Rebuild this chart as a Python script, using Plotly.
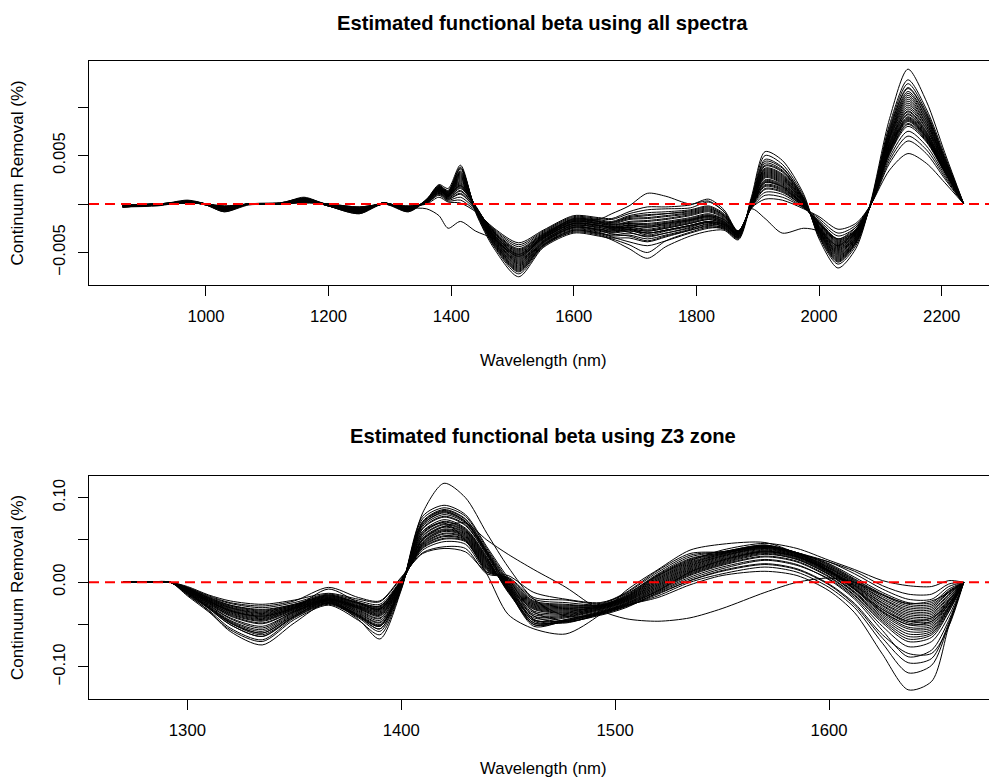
import plotly.graph_objects as go

UNIT = 1e-3  # all beta values below are typed in units of 1e-3

# ---------------- top panel: all spectra ----------------
wl_all = [864, 920, 970, 1000, 1030, 1070, 1120, 1160, 1200, 1250,
          1290, 1330, 1360, 1380, 1395, 1415, 1440, 1470, 1510, 1550,
          1600, 1640, 1662, 1690, 1720, 1750, 1790, 1820, 1845, 1868,
          1890, 1912, 1940, 1975, 2000, 2031, 2060, 2085, 2115, 2145,
          2175, 2205, 2236]

beta_all = [
    [-0.3,-0.1,0.3,-0.1,-0.8,0.0,0.0,0.7,-0.2,-1.0, 0.1,-0.8,0.5,2.0,1.6,4.0,-0.9,-4.6,-7.5,-4.5, -3.0,-3.3,-3.6,-4.2,-5.0,-3.8,-2.9,-2.4,-2.6,-3.6, 0.8,5.4,4.5,1.0,-3.6,-6.6,-4.6,0.4,8.8,13.9, 10.6,5.3,0.0],
    [-0.2,-0.1,0.4,0.0,-0.7,0.0,0.1,0.6,-0.1,-0.9, 0.1,-0.7,0.5,1.9,1.4,3.8,-0.8,-4.4,-7.2,-4.4, -2.8,-3.1,-3.5,-3.5,-3.9,-3.4,-2.7,-2.2,-2.5,-3.5, 0.6,5.0,4.1,0.8,-3.4,-6.2,-4.3,0.3,8.2,12.8, 9.8,5.0,0.0],
    [-0.3,-0.2,0.2,-0.1,-0.8,-0.1,0.0,0.6,-0.2,-1.0, 0.0,-0.8,0.4,1.8,1.3,3.6,-0.7,-4.3,-7.0,-4.3, -2.9,-3.2,-3.7,-4.6,-5.6,-4.4,-3.3,-2.8,-2.7,-3.7, 0.3,4.6,3.8,0.6,-3.3,-6.0,-4.1,0.2,7.9,12.4, 9.5,4.8,0.0],
    [-0.2,-0.1,0.3,0.0,-0.6,0.0,0.0,0.5,-0.2,-0.8, 0.1,-0.7,0.4,1.8,1.2,3.4,-0.6,-4.1,-6.8,-4.2, -2.6,-2.9,-3.3,-3.2,-3.6,-3.2,-2.6,-2.0,-2.3,-3.4, 0.4,4.2,3.5,0.5,-3.1,-5.8,-3.9,0.2,7.6,11.9, 9.2,4.6,0.0],
    [-0.3,-0.1,0.3,0.0,-0.7,0.0,0.1,0.6,-0.1,-0.9, 0.1,-0.6,0.4,1.7,1.2,3.2,-0.6,-4.0,-6.6,-4.1, -2.5,-2.8,-3.0,-2.8,-3.0,-2.7,-2.2,-1.8,-2.2,-3.3, 0.3,3.9,3.3,0.4,-2.9,-5.6,-3.8,0.1,7.3,11.4, 8.9,4.4,0.0],
    [-0.2,0.0,0.2,0.0,-0.6,0.0,0.0,0.5,-0.2,-0.8, 0.0,-0.6,0.4,1.7,1.1,3.0,-0.5,-3.8,-6.4,-4.0, -2.4,-2.7,-2.9,-2.6,-2.8,-2.5,-2.0,-1.6,-2.1,-3.2, 0.2,3.6,3.0,0.3,-2.8,-5.4,-3.6,0.1,7.0,11.0, 8.6,4.2,0.0],
    [-0.3,-0.1,0.3,-0.1,-0.6,0.0,0.0,0.5,-0.2,-0.8, 0.1,-0.6,0.3,1.6,1.0,2.8,-0.5,-3.7,-6.2,-3.9, -2.3,-2.6,-2.8,-2.4,-2.6,-2.3,-1.8,-1.4,-2.0,-3.2, 0.2,3.4,2.8,0.2,-2.7,-5.2,-3.5,0.1,6.8,10.6, 8.3,4.1,0.0],
    [-0.2,-0.1,0.2,0.0,-0.5,0.0,0.0,0.4,-0.1,-0.7, 0.1,-0.5,0.3,1.6,1.0,2.6,-0.4,-3.6,-6.0,-3.8, -2.2,-2.5,-2.9,-2.7,-3.2,-2.8,-2.3,-1.9,-2.2,-3.3, 0.1,3.2,2.6,0.1,-2.6,-5.0,-3.4,0.0,6.6,10.2, 8.0,3.9,0.0],
    [-0.2,-0.1,0.2,0.0,-0.5,0.0,0.1,0.4,-0.1,-0.7, 0.1,-0.5,0.3,1.5,0.9,2.4,-0.4,-3.5,-5.8,-3.6, -2.1,-2.3,-2.5,-2.2,-2.3,-2.0,-1.6,-1.2,-1.8,-3.1, 0.1,3.0,2.4,0.1,-2.5,-4.8,-3.2,0.0,6.3,9.8, 7.7,3.8,0.0],
    [-0.3,-0.1,0.2,-0.1,-0.5,0.0,0.0,0.4,-0.2,-0.7, 0.0,-0.5,0.3,1.5,0.9,2.2,-0.3,-3.4,-5.6,-3.5, -2.0,-2.2,-2.4,-2.0,-2.0,-1.8,-1.4,-1.0,-1.6,-3.0, 0.0,2.8,2.2,0.0,-2.4,-4.6,-3.1,0.0,6.1,9.5, 7.4,3.7,0.0],
    [-0.2,-0.1,0.2,0.0,-0.4,0.0,0.0,0.4,-0.1,-0.6, 0.1,-0.4,0.2,1.4,0.8,2.0,-0.3,-3.3,-5.4,-3.4, -1.9,-2.1,-2.6,-2.9,-3.4,-3.0,-2.5,-2.1,-2.3,-3.2, -0.1,2.5,2.0,-0.1,-2.3,-4.4,-3.0,0.0,5.9,9.2, 7.2,3.6,0.0],
    [-0.2,0.0,0.2,0.0,-0.4,0.0,0.0,0.3,-0.1,-0.6, 0.0,-0.4,0.2,1.4,0.8,1.8,-0.3,-3.2,-5.2,-3.3, -1.8,-2.0,-2.2,-1.8,-1.7,-1.5,-1.1,-0.7,-1.4,-2.9, -0.1,2.3,1.8,-0.2,-2.2,-4.2,-2.9,0.0,5.7,8.9, 7.0,3.5,0.0],
    [-0.2,-0.1,0.1,0.0,-0.4,0.0,0.0,0.3,-0.1,-0.5, 0.1,-0.4,0.2,1.3,0.7,1.6,-0.3,-3.0,-5.0,-3.2, -1.7,-1.9,-2.0,-1.5,-1.4,-1.2,-0.9,-0.5,-1.2,-2.9, -0.2,2.0,1.6,-0.2,-2.0,-4.0,-2.8,0.0,5.5,8.6, 6.8,3.4,0.0],
    [-0.2,-0.1,0.1,0.0,-0.3,0.0,0.0,0.3,-0.1,-0.5, 0.0,-0.3,0.2,1.2,0.6,1.3,-0.4,-2.9,-4.8,-3.1, -1.6,-1.8,-2.3,-2.5,-2.8,-2.5,-2.0,-1.6,-2.0,-3.1, -0.2,1.8,1.4,-0.3,-1.9,-3.8,-2.7,0.0,5.3,8.3, 6.6,3.3,0.0],
    [-0.1,0.0,0.1,0.0,-0.3,0.0,0.0,0.2,0.0,-0.4, 0.0,-0.3,0.1,1.1,0.5,1.0,-0.5,-2.8,-4.6,-3.0, -1.5,-1.7,-1.9,-1.4,-1.2,-1.0,-0.7,-0.3,-1.1,-2.8, -0.3,1.5,1.2,-0.3,-1.8,-3.6,-2.6,0.0,5.1,8.0, 6.4,3.2,0.0],
    [-0.1,0.0,0.1,0.0,-0.3,0.0,0.0,0.2,0.0,-0.4, 0.0,-0.3,0.1,1.0,0.4,0.7,-0.6,-2.7,-4.4,-2.9, -1.4,-1.6,-1.8,-1.2,-0.9,-0.8,-0.6,-0.2,-1.0,-2.8, -0.3,1.2,1.0,-0.4,-1.7,-3.3,-2.4,0.0,4.8,7.5, 6.0,3.0,0.0],
    [-0.1,0.0,0.1,0.0,-0.2,0.0,0.0,0.2,0.0,-0.3, 0.0,-0.2,0.1,0.9,0.3,0.4,-0.7,-2.6,-4.2,-2.8, -1.3,-1.5,-1.6,-1.0,-0.6,-0.5,-0.4,0.2,-0.8,-2.8, -0.4,0.9,0.7,-0.4,-1.5,-3.0,-2.2,0.0,4.5,7.0, 5.6,2.8,0.0],
    [-0.1,0.0,0.1,0.0,-0.2,0.0,0.0,0.1,0.0,-0.3, 0.0,-0.2,0.0,0.7,0.2,0.1,-0.8,-2.5,-4.0,-2.7, -1.2,-1.4,-1.5,-0.8,-0.3,-0.3,-0.1,0.5,-0.6,-2.8, -0.4,0.5,0.4,-0.5,-1.3,-2.6,-2.0,0.0,4.2,6.5, 5.2,2.6,0.0],
    [-0.2,-0.1,0.1,0.0,-0.4,0.0,0.0,0.3,-0.1,-0.6, 0.0,-0.4,-0.5,-1.2,-2.5,-1.8,-2.8,-3.6,-5.4,-3.5, -2.0,-2.2,-2.4,-2.2,-2.4,-2.1,-1.7,-1.3,-1.8,-3.0, -0.2,2.2,1.8,-0.2,-2.0,-3.6,-2.4,0.0,3.5,5.2, 4.2,2.2,0.0],
    [-0.2,0.0,0.2,0.0,-0.5,0.0,0.0,0.4,-0.1,-0.6, 0.1,-0.5,0.3,1.4,0.8,1.9,-0.2,-3.2,-5.2,-3.3, -1.5,-1.6,-1.0,-0.2,1.1,0.8,0.0,0.3,-0.8,-2.9, -0.5,-1.5,-3.0,-2.5,-2.8,-4.3,-2.6,0.0,5.6,8.7, 6.9,3.4,0.0],
    [-0.2,-0.1,0.3,0.0,-0.7,0.0,0.0,0.6,-0.2,-0.9, 0.1,-0.7,0.4,1.9,1.3,3.7,-0.7,-4.2,-6.9,-4.3, -2.7,-3.0,-3.2,-3.0,-3.3,-3.0,-2.4,-1.9,-2.4,-3.4, 0.5,4.4,3.7,0.6,-3.2,-5.9,-4.0,0.2,7.7,12.0, 9.3,4.7,0.0],
    [-0.3,-0.1,0.2,-0.1,-0.6,0.0,0.0,0.5,-0.1,-0.8, 0.0,-0.6,0.4,1.7,1.2,3.3,-0.6,-4.0,-6.7,-4.2, -2.7,-3.0,-3.4,-3.9,-4.3,-3.8,-3.0,-2.5,-2.5,-3.5, 0.4,4.0,3.4,0.5,-3.0,-5.7,-3.9,0.2,7.4,11.6, 9.0,4.5,0.0],
    [-0.2,-0.1,0.3,0.0,-0.6,0.0,0.1,0.5,-0.2,-0.8, 0.1,-0.6,0.4,1.7,1.1,3.1,-0.5,-3.9,-6.5,-4.0, -2.4,-2.6,-2.7,-2.3,-2.4,-2.2,-1.7,-1.3,-1.9,-3.2, 0.3,3.7,3.1,0.4,-2.9,-5.5,-3.7,0.1,7.1,11.2, 8.7,4.3,0.0],
    [-0.2,0.0,0.2,0.0,-0.6,0.0,0.0,0.5,-0.1,-0.7, 0.1,-0.5,0.3,1.6,1.0,2.9,-0.5,-3.8,-6.3,-3.9, -2.4,-2.7,-3.1,-3.3,-3.8,-3.3,-2.7,-2.3,-2.4,-3.4, 0.2,3.5,2.9,0.3,-2.8,-5.3,-3.6,0.1,6.9,10.8, 8.4,4.2,0.0],
    [-0.3,-0.1,0.2,0.0,-0.5,0.0,0.0,0.5,-0.2,-0.8, 0.0,-0.5,0.3,1.6,1.0,2.7,-0.4,-3.6,-6.1,-3.8, -2.2,-2.4,-2.6,-2.1,-2.1,-1.9,-1.5,-1.1,-1.7,-3.1, 0.2,3.3,2.7,0.2,-2.7,-5.1,-3.4,0.1,6.7,10.4, 8.1,4.0,0.0],
    [-0.2,-0.1,0.2,0.0,-0.5,0.0,0.0,0.4,-0.1,-0.7, 0.1,-0.5,0.3,1.5,0.9,2.5,-0.4,-3.5,-5.9,-3.7, -2.2,-2.4,-2.7,-2.6,-3.0,-2.7,-2.2,-1.8,-2.1,-3.2, 0.1,3.1,2.5,0.1,-2.6,-4.9,-3.3,0.0,6.4,10.0, 7.8,3.9,0.0],
    [-0.2,-0.1,0.2,0.0,-0.5,0.0,0.0,0.4,-0.1,-0.7, 0.1,-0.5,0.3,1.5,0.9,2.3,-0.3,-3.4,-5.7,-3.6, -2.0,-2.2,-2.3,-1.9,-1.8,-1.6,-1.2,-0.8,-1.5,-3.0, 0.0,2.9,2.3,0.0,-2.5,-4.7,-3.2,0.0,6.2,9.6, 7.5,3.7,0.0],
    [-0.2,-0.1,0.2,0.0,-0.4,0.0,0.0,0.4,-0.1,-0.6, 0.0,-0.4,0.2,1.4,0.8,2.1,-0.3,-3.3,-5.5,-3.5, -2.0,-2.2,-2.5,-2.4,-2.7,-2.4,-1.9,-1.5,-1.9,-3.1, 0.0,2.7,2.1,-0.1,-2.4,-4.5,-3.1,0.0,6.0,9.3, 7.3,3.6,0.0],
    [-0.2,0.0,0.2,0.0,-0.4,0.0,0.0,0.3,-0.1,-0.6, 0.1,-0.4,0.2,1.4,0.8,1.9,-0.3,-3.2,-5.3,-3.4, -1.8,-2.0,-2.1,-1.6,-1.5,-1.3,-1.0,-0.6,-1.3,-2.9, -0.1,2.4,1.9,-0.1,-2.3,-4.3,-3.0,0.0,5.8,9.0, 7.1,3.5,0.0],
    [-0.2,-0.1,0.1,0.0,-0.4,0.0,0.0,0.3,-0.1,-0.5, 0.0,-0.4,0.2,1.3,0.7,1.7,-0.3,-3.1,-5.1,-3.3, -1.8,-2.0,-2.4,-2.6,-3.0,-2.7,-2.2,-1.8,-2.1,-3.1, -0.1,2.2,1.7,-0.2,-2.1,-4.1,-2.9,0.0,5.6,8.8, 6.9,3.4,0.0],
    [-0.2,-0.1,0.1,0.0,-0.3,0.0,0.0,0.3,-0.1,-0.5, 0.0,-0.3,0.2,1.2,0.6,1.4,-0.4,-3.0,-4.9,-3.2, -1.7,-1.8,-1.9,-1.3,-1.1,-1.0,-0.8,-0.4,-1.2,-2.9, -0.2,1.9,1.5,-0.2,-2.0,-3.9,-2.8,0.0,5.4,8.5, 6.7,3.3,0.0],
    [-0.1,0.0,0.1,0.0,-0.3,0.0,0.0,0.2,0.0,-0.4, 0.0,-0.3,0.1,1.1,0.5,1.1,-0.5,-2.9,-4.7,-3.1, -1.6,-1.8,-2.1,-2.0,-2.2,-2.0,-1.6,-1.2,-1.6,-3.0, -0.2,1.6,1.3,-0.3,-1.9,-3.7,-2.7,0.0,5.2,8.2, 6.5,3.3,0.0],
]

# ---------------- bottom panel: Z3 zone ----------------
wl_z3 = [1270, 1280, 1292, 1300, 1310, 1320, 1335, 1350, 1366, 1380,
         1390, 1400, 1410, 1420, 1430, 1440, 1450, 1462, 1477, 1493,
         1505, 1520, 1535, 1550, 1570, 1585, 1600, 1612, 1625, 1637,
         1648, 1656, 1663]

beta_z3 = [
    [0,0,0,-14,-34,-58,-74,-48,-24,-44, -67,-9,82,117,100,58,18,-20,-40,-38, -28,-10,12,26,36,30,14,-8,-32,-46, -42,-25,0],
    [0,0,0,-16,-35,-56,-70,-44,-27,-45, -62,-8,78,91,80,42,5,-35,-46,-39, -30,-12,4,16,26,20,4,-18,-52,-76, -70,-40,0],
    [0,0,0,-15,-33,-54,-68,-42,-26,-42, -58,-7,75,88,78,40,2,-40,-47,-38, -29,-14,2,14,22,16,-2,-25,-62,-84, -84,-52,0],
    [0,0,0,-14,-31,-50,-64,-40,-25,-40, -55,-6,72,86,75,38,0,-44,-48,-37, -28,-16,0,10,18,12,-6,-30,-72,-107, -98,-50,0],
    [0,0,0,-13,-30,-48,-60,-38,-24,-39, -52,-5,70,84,72,36,-5,-48,-46,-36, -27,-18,-3,8,13,8,-10,-36,-85,-127, -117,-52,0],
    [0,0,0,-12,-28,-45,-56,-36,-23,-37, -48,-5,66,80,70,34,-8,-52,-45,-35, -26,-10,8,20,30,24,6,-16,-48,-70, -65,-35,0],
    [0,0,0,-11,-27,-42,-52,-35,-22,-35, -45,-4,63,77,67,32,-10,-50,-44,-34, -25,-8,10,22,33,27,9,-13,-44,-64, -60,-32,0],
    [0,0,0,-11,-26,-40,-49,-34,-21,-34, -43,-3,60,74,64,30,-12,-45,-42,-33, -24,-6,12,24,35,28,10,-11,-40,-58, -56,-30,0],
    [0,0,0,-10,-25,-38,-46,-33,-21,-32, -40,-3,57,71,62,28,-10,-40,-40,-32, -23,-4,14,26,37,30,12,-8,-36,-53, -52,-28,0],
    [0,0,0,-10,-24,-36,-44,-32,-20,-31, -38,-2,54,68,60,26,-8,-36,-38,-31, -22,-2,16,28,38,31,13,-6,-32,-48, -48,-25,0],
    [0,0,0,-9,-23,-34,-42,-31,-20,-30, -36,-2,51,65,58,24,-6,-32,-36,-30, -21,0,18,30,40,32,14,-4,-28,-44, -44,-22,0],
    [0,0,0,-9,-22,-33,-40,-30,-19,-29, -34,-1,48,62,56,22,-4,-30,-34,-29, -20,2,20,31,41,33,15,-3,-25,-40, -40,-20,0],
    [0,0,0,-8,-21,-31,-38,-29,-18,-28, -32,0,46,60,54,20,-2,-28,-32,-29, -19,4,22,33,42,34,17,-1,-22,-36, -36,-17,0],
    [0,0,0,-8,-20,-30,-36,-28,-17,-26, -31,1,44,57,52,18,0,-26,-30,-28, -18,6,24,34,42,34,18,1,-19,-32, -32,-14,0],
    [0,0,0,-7,-19,-28,-34,-27,-16,-25, -29,2,42,54,50,16,2,-24,-28,-27, -17,8,27,35,43,35,20,3,-15,-28, -28,-11,0],
    [0,0,0,-7,-18,-27,-32,-26,-15,-24, -28,2,40,51,48,14,4,-22,-26,-27, -15,10,30,36,44,35,22,6,-12,-24, -24,-8,0],
    [0,0,0,-6,-17,-25,-30,-24,-14,-22, -26,3,38,48,45,12,5,-20,-24,-26, -13,12,32,36,44,35,24,10,-8,-20, -20,-5,0],
    [0,0,0,-5,-15,-22,-26,-21,-13,-20, -23,5,35,42,40,10,6,-18,-21,-25, -12,14,34,36,43,34,24,13,-4,-14, -14,-2,0],
    [0,0,0,-8,-22,-34,-40,-30,-8,-24, -32,3,50,66,70,50,33,15,-6,-33, -43,-46,-42,-31,-12,0,5,0,-15,-25, -22,-12,0],
    [0,0,0,-12,-30,-48,-62,-40,-22,-40, -52,-4,60,70,50,10,-38,-55,-61,-38, -10,15,38,45,47,34,14,-8,-35,-50, -46,-26,0],
    [0,0,0,-6,-16,-24,-28,-22,-6,-18, -22,6,34,40,36,12,8,-12,-20,-24, -14,8,25,38,46,40,26,15,2,-4, -5,2,0],
    [0,0,0,-12,-29,-46,-58,-37,-23,-38, -50,-5,68,82,71,35,-6,-50,-46,-36, -26,-9,9,21,31,25,7,-15,-46,-67, -62,-34,0],
    [0,0,0,-11,-27,-43,-54,-35,-22,-36, -47,-4,64,78,68,33,-9,-48,-44,-35, -25,-7,11,23,34,27,9,-12,-42,-61, -58,-31,0],
    [0,0,0,-10,-25,-39,-48,-34,-21,-33, -42,-3,58,72,63,29,-11,-42,-41,-32, -23,-5,13,25,36,29,11,-9,-38,-55, -54,-29,0],
    [0,0,0,-10,-24,-37,-45,-32,-20,-31, -39,-2,55,69,61,27,-9,-38,-39,-31, -22,-3,15,27,37,30,12,-7,-34,-50, -50,-26,0],
    [0,0,0,-9,-23,-35,-43,-31,-20,-30, -37,-2,52,66,59,25,-7,-34,-37,-30, -21,-1,17,29,39,31,13,-5,-30,-46, -46,-23,0],
    [0,0,0,-9,-22,-33,-41,-30,-19,-29, -35,-1,50,63,57,23,-5,-31,-35,-29, -20,1,19,31,40,32,14,-4,-27,-42, -42,-21,0],
    [0,0,0,-8,-21,-32,-39,-29,-18,-28, -33,-1,47,61,55,21,-3,-29,-33,-29, -19,3,21,32,41,33,16,-2,-24,-38, -38,-18,0],
    [0,0,0,-8,-20,-30,-37,-28,-17,-27, -31,0,45,58,53,19,-1,-27,-31,-28, -18,5,23,33,42,34,17,0,-20,-34, -34,-15,0],
    [0,0,0,-7,-19,-29,-35,-27,-16,-25, -30,1,43,55,51,17,1,-25,-29,-28, -17,7,26,34,42,34,19,2,-17,-30, -30,-12,0],
    [0,0,0,-7,-18,-27,-33,-26,-15,-24, -28,2,41,52,49,15,3,-23,-27,-27, -16,9,28,35,43,35,21,4,-14,-26, -26,-10,0],
    [0,0,0,-13,-31,-50,-64,-41,-25,-41, -55,-6,71,85,74,37,-2,-46,-47,-37, -28,-13,2,13,21,15,-3,-27,-66,-95, -90,-48,0],
    [0,0,0,-12,-29,-47,-60,-39,-24,-39, -51,-5,68,83,72,35,-4,-44,-45,-36, -27,-11,6,18,27,21,3,-20,-57,-88, -80,-45,0],
]

# ---------------- axis ticks and texts ----------------
xticks_all = [1000, 1200, 1400, 1600, 1800, 2000, 2200]
xticks_z3 = [1300, 1400, 1500, 1600]
yticks_all = [-0.005, 0.0, 0.005, 0.010]
ytext_all = ["\u22120.005", "", "0.005", ""]
yticks_z3 = [-0.10, -0.05, 0.0, 0.05, 0.10]
ytext_z3 = ["\u22120.10", "", "0.00", "", "0.10"]

title_all = "Estimated functional beta using all spectra"
title_z3 = "Estimated functional beta using Z3 zone"
xlabel = "Wavelength (nm)"
ylabel = "Continuum Removal (%)"

W, H = 989, 781
FONT = "Liberation Sans, Arial, Helvetica, sans-serif"
FS = 16.7

fig = go.Figure()
for curve in beta_all:
    fig.add_trace(go.Scatter(x=wl_all, y=[v * UNIT for v in curve], mode="lines",
                             line=dict(color="black", width=1, shape="spline", smoothing=0.8),
                             xaxis="x", yaxis="y", showlegend=False, hoverinfo="skip"))
for curve in beta_z3:
    fig.add_trace(go.Scatter(x=wl_z3, y=[v * UNIT for v in curve], mode="lines",
                             line=dict(color="black", width=1, shape="spline", smoothing=0.8),
                             xaxis="x2", yaxis="y2", showlegend=False, hoverinfo="skip"))


def px_x(p):
    return p / W


def px_y(p):
    return 1 - p / H


axis_common = dict(showgrid=False, zeroline=False, showline=True, linecolor="black", linewidth=1,
                   ticks="outside", ticklen=10, tickwidth=1, tickcolor="black",
                   tickfont=dict(family=FONT, size=FS, color="black"), automargin=False)

fig.update_layout(
    width=W, height=H,
    margin=dict(l=0, r=0, t=0, b=0),
    paper_bgcolor="white", plot_bgcolor="white",
    font=dict(family=FONT, size=FS, color="black"),
    xaxis=dict(domain=[px_x(89), 1.0], range=[809.2, 2277.2], tickvals=xticks_all,
               mirror=True, anchor="y", ticklabelstandoff=6, **axis_common),
    yaxis=dict(domain=[px_y(285), px_y(61)], range=[-0.008351, 0.014742],
               tickvals=yticks_all, ticktext=ytext_all, tickangle=-90, anchor="x",
               mirror=False, ticklabelstandoff=6, **axis_common),
    xaxis2=dict(domain=[px_x(89), 1.0], range=[1254.0, 1674.8], tickvals=xticks_z3,
                mirror=True, anchor="y2", ticklabelstandoff=6, **axis_common),
    yaxis2=dict(domain=[px_y(699.3), px_y(475.7)], range=[-0.13822, 0.12593],
                tickvals=yticks_z3, ticktext=ytext_z3, tickangle=-90, anchor="x2",
                mirror=False, ticklabelstandoff=6, **axis_common),
)

red = dict(color="#FF0000", width=2, dash="10px,6px")
fig.add_shape(type="line", xref="x domain", yref="y", x0=0, x1=1, y0=0, y1=0, line=red, layer="above")
fig.add_shape(type="line", xref="x2 domain", yref="y2", x0=0, x1=1, y0=0, y1=0, line=red, layer="above")


def ann(text, x, y, size=FS, angle=0, yanchor="middle"):
    fig.add_annotation(text=text, xref="paper", yref="paper", x=px_x(x), y=px_y(y),
                       xanchor="center", yanchor=yanchor, showarrow=False, textangle=angle,
                       font=dict(family=FONT, size=size, color="black"))


ann("<b>" + title_all + "</b>", 542, 23, size=20.2)
ann("<b>" + title_z3 + "</b>", 543, 436, size=20.2)
ann(xlabel, 543, 360)
ann(xlabel, 543, 780, yanchor="bottom")
ann(ylabel, 17.5, 173, size=17.0, angle=-90)
ann(ylabel, 17.5, 587.5, size=17.0, angle=-90)

fig.write_html("out.html")
